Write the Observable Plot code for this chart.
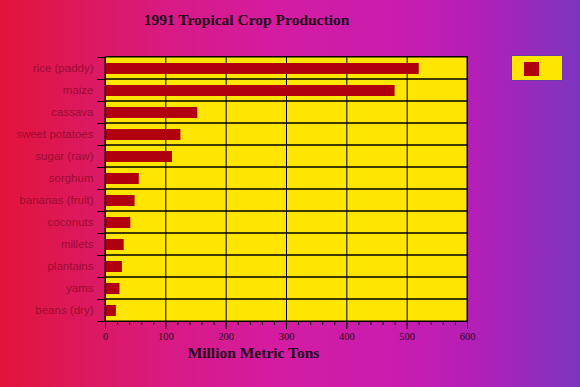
<!DOCTYPE html>
<html>
<head>
<meta charset="utf-8">
<script src="https://cdn.jsdelivr.net/npm/d3@7"></script>
<script src="https://cdn.jsdelivr.net/npm/@observablehq/plot@0.6"></script>
<style>
  html, body { margin: 0; padding: 0; }
  #wrap {
    position: relative; width: 580px; height: 387px; overflow: hidden;
    background: linear-gradient(to right, #e3143a 0%, #dd1858 12%, #d81a86 30%, #d41ca2 48%, #c81cb0 70%, #b020b8 83%, #7c34c0 100%);
  }
  #legend {
    position: absolute; left: 511px; top: 55px; width: 52px; height: 26px;
    background: #ffe600; border: 1px solid #6a3aa8; box-sizing: border-box;
  }
  #legend div {
    position: absolute; left: 12px; top: 6px; width: 15px; height: 14px; background: #b00010;
  }
</style>
</head>
<body>
<div id="wrap"><div id="legend"><div></div></div></div>
<script>
const crops = ["rice (paddy)", "maize", "cassava", "sweet potatoes", "sugar (raw)", "sorghum",
  "bananas (fruit)", "coconuts", "millets", "plantains", "yams", "beans (dry)"];
const production = [520, 480, 153, 125, 111, 56, 49, 42, 31, 28, 24, 18];
const xTicks = [0, 100, 200, 300, 400, 500, 600];
const minorTicks = d3.range(0, 601, 20);
const gridTicks = [100, 200, 300, 400, 500];
const title = "1991 Tropical Crop Production";
const xLabel = "Million Metric Tons";

const data = crops.map((c, i) => ({crop: c, value: production[i]}));
const serif = "'Liberation Serif', 'DejaVu Serif', serif";

const chart = Plot.plot({
  width: 580, height: 387,
  marginLeft: 105, marginRight: 113, marginTop: 56, marginBottom: 66,
  style: {background: "transparent", overflow: "visible"},
  x: {domain: [0, 600], axis: null},
  y: {domain: crops, padding: 0, axis: null},
  marks: [
    Plot.frame({fill: "#ffe600"}),
    Plot.gridX({ticks: gridTicks, stroke: "#000", strokeOpacity: 1, strokeWidth: 1}),
    Plot.barX(data, {x1: 0, x2: 600, y: "crop", fill: "none", stroke: "#000", strokeWidth: 1}),
    Plot.barX(data, {x: "value", y: "crop", fill: "#b00010", insetTop: 6, insetBottom: 5}),
    Plot.frame({stroke: "#000", strokeWidth: 1}),
    Plot.ruleY(crops, {y: d => d, x1: -13, x2: 0, dy: -11, stroke: "#000"}),
    Plot.ruleY([crops[crops.length - 1]], {y: d => d, x1: -13, x2: 0, dy: 11, stroke: "#000"}),
    Plot.axisY({tickSize: 0, tickPadding: 12, fontSize: 11.5, fill: "#9c0c30",
      fontFamily: "'Liberation Sans', Arial, sans-serif", label: null}),
    Plot.axisX({ticks: minorTicks, tickSize: 4, text: null, label: null, stroke: "#000"}),
    Plot.axisX({ticks: xTicks, tickSize: 8, tickPadding: 3, fontSize: 10.5, fill: "#2a0818",
      fontFamily: serif, label: null, stroke: "#000"}),
    Plot.text([xLabel], {frameAnchor: "bottom", lineAnchor: "middle", dy: 32, dx: -33, fontSize: 15.5,
      fontWeight: "bold", fontFamily: serif, fill: "#220818"}),
    Plot.text([title], {frameAnchor: "top", lineAnchor: "middle", dy: -36, dx: -40, fontSize: 15.5,
      fontWeight: "bold", fontFamily: serif, fill: "#220818"})
  ]
});
document.getElementById("wrap").prepend(chart);
</script>
</body>
</html>
